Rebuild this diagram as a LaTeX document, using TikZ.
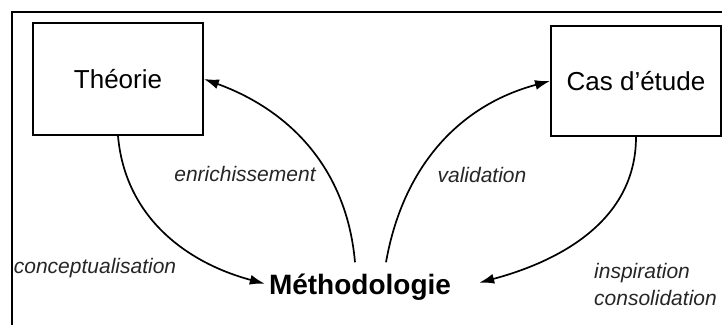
\documentclass[tikz,border=0pt]{standalone}
\usepackage{fontspec}
\setmainfont{Liberation Sans}
\usetikzlibrary{arrows.meta, positioning}

\begin{document}
\begin{tikzpicture}[
    x=1pt, y=1pt,
    box/.style={
        rectangle, draw=black, line width=1.9pt,
        minimum width=170pt, minimum height=112pt,
        font=\fontsize{26}{30}\selectfont, text=black
    },
    core/.style={font=\fontsize{28}{32}\selectfont\bfseries, text=black,
        inner sep=0pt},
    lbl/.style={font=\fontsize{21}{27}\selectfont\itshape, text=black!85,
        align=left, inner sep=0pt},
    arr/.style={-{Latex[length=15pt, width=10pt]}, line width=1.7pt},
]
\useasboundingbox (0,0) rectangle (722,-324);
\clip (0,0) rectangle (722,-324);

% outer frame (open to the right and bottom)
\draw[line width=2.4pt] (12,-340) -- (12,-12) -- (740,-12);

% ===================================================================
% BOXES
% ===================================================================
\node[box] (theorie) at (118,-79) {Théorie};
\node[box, minimum height=110pt] (cas) at (636,-81) {Cas d'étude};

\node[core, anchor=base] (methodo) at (360,-294) {Méthodologie};

% ===================================================================
% CONNECTORS
% ===================================================================
\draw[arr] (theorie.south)
    to[out=-85, in=165] ([shift={(-4,3)}]methodo.west);
\draw[arr] ([shift={(-5,11)}]methodo.north)
    to[out=95, in=-20] (theorie.east);
\draw[arr] ([shift={(26,11)}]methodo.north)
    to[out=80, in=-165] (cas.west);
\draw[arr] (cas.south)
    to[out=-90, in=15] ([shift={(28,4)}]methodo.east);

% Labels
\node[lbl] (enrich) at (245,-174) {enrichissement};
\node[lbl] (valid) at (482,-175) {validation};
\node[lbl] (concept) at (95,-268) {conceptualisation};
\node[lbl, anchor=west] (inspir) at (594,-284) {inspiration\\consolidation};

\end{tikzpicture}
\end{document}
